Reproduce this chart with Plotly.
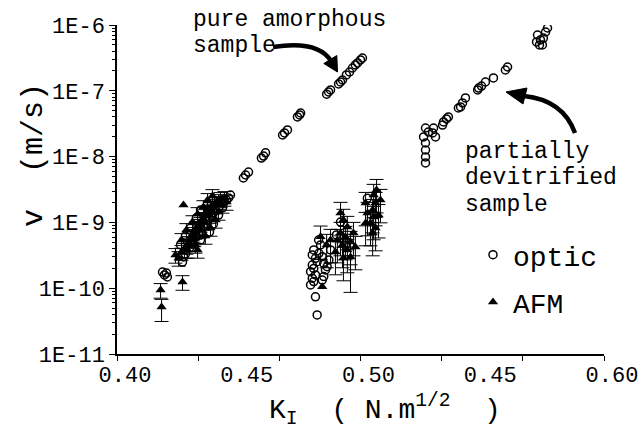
import plotly.graph_objects as go

# ---------------- data (K_I in N.m^1/2, v in m/s) ----------------
pure_optic_K = [0.5008, 0.5000, 0.4988, 0.4979, 0.4967, 0.4955, 0.4942, 0.4926, 0.4918, 0.4910,
                0.4877, 0.4869, 0.4861, 0.4754, 0.4750, 0.4741, 0.4700, 0.4688, 0.4680, 0.4610,
                0.4602, 0.4593, 0.4540, 0.4528, 0.4519,
                0.4466, 0.4458, 0.4450, 0.4437, 0.4421, 0.4405, 0.4396, 0.4388, 0.4372, 0.4363,
                0.4355, 0.4343, 0.4335, 0.4326, 0.4310, 0.4302, 0.4298, 0.4281, 0.4273, 0.4269,
                0.4187, 0.4195, 0.4207, 0.4203,
                0.4261, 0.4343, 0.4281, 0.4380, 0.4302, 0.4396, 0.4326, 0.4417, 0.4343, 0.4433]
pure_optic_v = [3.15e-7, 2.94e-7, 2.65e-7, 2.47e-7, 2.22e-7, 1.93e-7, 1.74e-7, 1.46e-7, 1.36e-7, 1.27e-7,
                1.03e-7, 9.6e-8, 8.9e-8, 4.6e-8, 4.29e-8, 4.0e-8, 2.54e-8, 2.29e-8, 2.13e-8, 1.14e-8,
                1.02e-8, 9.5e-9, 5.83e-9, 5.25e-9, 4.73e-9,
                2.61e-9, 2.35e-9, 2.19e-9, 1.97e-9, 1.77e-9, 1.54e-9, 1.39e-9, 1.29e-9, 1.05e-9, 9.46e-10,
                8.8e-10, 7.14e-10, 6.67e-10, 6.0e-10, 4.70e-10, 5.04e-10, 4.08e-10, 3.31e-10, 2.98e-10, 2.50e-10,
                1.76e-10, 1.59e-10, 1.48e-10, 1.70e-10,
                4.54e-10, 5.40e-10, 6.21e-10, 7.14e-10, 8.22e-10, 9.46e-10, 1.17e-9, 1.29e-9, 1.54e-9, 1.66e-9]

pure_afm_K = [0.4253, 0.4265, 0.4277, 0.4285, 0.4294, 0.4302, 0.4306, 0.4314, 0.4322, 0.4326,
              0.4335, 0.4343, 0.4347, 0.4355, 0.4363, 0.4368, 0.4376, 0.4384, 0.4392, 0.4400,
              0.4409, 0.4417, 0.4425, 0.4392, 0.4441, 0.4290, 0.4318, 0.4339, 0.4359, 0.4380,
              0.4269, 0.4179,
              0.4331, 0.4265, 0.4363, 0.4285, 0.4384, 0.4310, 0.4405, 0.4331, 0.4417, 0.4355,
              0.4433, 0.4372, 0.4450, 0.4240, 0.4322]
pure_afm_v = [2.88e-10, 3.55e-10, 3.81e-10, 4.38e-10, 4.86e-10, 5.40e-10, 6.21e-10, 6.67e-10, 7.40e-10, 8.22e-10,
              8.81e-10, 9.46e-10, 1.05e-9, 1.13e-9, 1.25e-9, 1.39e-9, 1.44e-9, 1.60e-9, 1.77e-9, 1.90e-9,
              1.97e-9, 2.11e-9, 2.27e-9, 2.52e-9, 2.35e-9, 3.81e-10, 5.79e-10, 7.66e-10, 1.01e-9, 1.29e-9,
              1.24e-10, 9.4e-11,
              3.81e-10, 5.40e-10, 6.21e-10, 7.66e-10, 8.22e-10, 1.01e-9, 1.09e-9, 1.34e-9, 1.44e-9, 1.71e-9,
              1.84e-9, 2.19e-9, 2.04e-9, 3.20e-10, 4.54e-10]

pure_afm_wide_K = [0.4183]
pure_afm_wide_v = [5.2e-11]

afm_noerr_K = [0.4273, 0.4843]
afm_noerr_v = [1.84e-9, 1.05e-10]

mid_optic_K = [0.4802, 0.4808, 0.4815, 0.4822, 0.4802, 0.4808, 0.4795, 0.4815, 0.4802, 0.4808,
               0.4795, 0.4829, 0.4843, 0.4849, 0.4856, 0.4849, 0.4843, 0.4863, 0.4870, 0.4815,
               0.4822, 0.4918, 0.5028, 0.4901, 0.4938, 0.4836, 0.4828, 0.4877]
mid_optic_v = [3.20e-10, 3.81e-10, 2.84e-10, 2.53e-10, 2.25e-10, 2.0e-10, 1.78e-10, 1.59e-10, 1.42e-10, 1.26e-10,
               1.12e-10, 3.39e-10, 3.01e-10, 2.39e-10, 1.89e-10, 1.50e-10, 1.33e-10, 2.12e-10, 2.69e-10, 7.4e-11,
               3.92e-11, 1.01e-9, 2.32e-9, 6.44e-10, 4.54e-10, 4.54e-10, 5.4e-10, 3.81e-10]

mid_afm_K = [0.4836, 0.4918, 0.4930, 0.4946, 0.4918, 0.4938, 0.4959, 0.4926, 0.4946, 0.4930,
             0.4905, 0.4971, 0.4979, 0.4897, 0.4877, 0.4861, 0.5054, 0.5062, 0.5050, 0.5054,
             0.5041, 0.5062, 0.5050, 0.5021, 0.5029, 0.5021, 0.5082, 0.5074, 0.5066]
mid_afm_v = [6.07e-10, 1.39e-9, 1.09e-9, 8.51e-10, 6.90e-10, 6.0e-10, 5.04e-10, 4.54e-10, 3.81e-10, 2.88e-10,
             5.40e-10, 6.90e-10, 4.23e-10, 3.55e-10, 5.4e-10, 4.54e-10, 2.61e-9, 1.97e-9, 1.54e-9, 1.21e-9,
             9.8e-10, 8.22e-10, 6.90e-10, 1.97e-9, 1.39e-9, 9.8e-10, 2.19e-9, 1.29e-9, 3.1e-9]

mid_afm_long_K = [0.4959]
mid_afm_long_v = [2.98e-10]

dev_optic_K = [0.5727, 0.5739, 0.5747, 0.5760, 0.5768, 0.5735, 0.5751, 0.5723, 0.5595, 0.5604,
               0.5546, 0.5513, 0.5485, 0.5481, 0.5497, 0.5431, 0.5411, 0.5402, 0.5419, 0.5361,
               0.5341, 0.5337, 0.5353, 0.5300, 0.5296, 0.5308, 0.5267, 0.5259, 0.5267, 0.5267,
               0.5267, 0.5267, 0.5279]
dev_optic_v = [7.05e-7, 5.92e-7, 4.97e-7, 7.83e-7, 9.0e-7, 4.97e-7, 6.34e-7, 5.52e-7, 2.07e-7, 2.30e-7,
               1.57e-7, 1.36e-7, 1.10e-7, 1.03e-7, 1.18e-7, 7.78e-8, 5.68e-8, 5.48e-8, 6.53e-8, 4.0e-8,
               3.36e-8, 3.02e-8, 3.73e-8, 2.72e-8, 2.29e-8, 1.99e-8, 2.72e-8, 1.99e-8, 1.61e-8, 1.26e-8,
               9.87e-9, 8.0e-9, 2.37e-8]

x_tick_vals = [0.40001, 0.45, 0.50001, 0.55, 0.59999]
x_tick_text = ["0.40", "0.45", "0.50", "0.45", "0.60"]
y_tick_vals = [1e-11, 1e-10, 1e-9, 1e-8, 1e-7, 1e-6]
y_tick_text = ["1E-11", "1E-10", "1E-9", "1E-8", "1E-7", "1E-6"]

# ---------------- styling ----------------
FONT = "Liberation Mono, Courier New, monospace"
W, H = 644, 438
L, R, T, B = 117, 604, 25, 354   # plot area in px


def pxx(x):
    return (x - L) / (R - L)


def pxy(y):
    return (B - y) / (B - T)


optic_marker = dict(symbol="circle-open", size=8, color="black", line=dict(width=1.5, color="black"))
afm_marker = dict(symbol="triangle-up", size=9, color="black")


def err(up, down=None):
    d = dict(type="percent", value=up, color="black", thickness=1, width=7)
    if down is not None:
        d.update(symmetric=False, valueminus=down)
    return d


fig = go.Figure()

fig.add_trace(go.Scatter(x=pure_optic_K + mid_optic_K + dev_optic_K,
                         y=pure_optic_v + mid_optic_v + dev_optic_v,
                         mode="markers", marker=optic_marker, name="optic",
                         legendgroup="o"))
fig.add_trace(go.Scatter(x=pure_afm_K, y=pure_afm_v, mode="markers", marker=afm_marker,
                         error_y=err(25), name="AFM", legendgroup="a"))
fig.add_trace(go.Scatter(x=pure_afm_wide_K, y=pure_afm_wide_v, mode="markers", marker=afm_marker,
                         error_y=err(30, 40), showlegend=False, legendgroup="a"))
fig.add_trace(go.Scatter(x=mid_afm_K, y=mid_afm_v, mode="markers", marker=afm_marker,
                         error_y=err(45, 55), showlegend=False, legendgroup="a"))
fig.add_trace(go.Scatter(x=mid_afm_long_K, y=mid_afm_long_v, mode="markers", marker=afm_marker,
                         error_y=err(42, 71), showlegend=False, legendgroup="a"))
fig.add_trace(go.Scatter(x=afm_noerr_K, y=afm_noerr_v, mode="markers", marker=afm_marker,
                         showlegend=False, legendgroup="a"))

minor_x = [0.40 + k * (0.20 / 6) for k in range(7)]
minor_y = [m * 10.0 ** e for e in range(-11, -6) for m in range(2, 10)]

fig.update_xaxes(range=[0.40, 0.60], showline=True, linecolor="black", linewidth=1.5,
                 showgrid=False, zeroline=False, tickmode="array",
                 tickvals=x_tick_vals, ticktext=x_tick_text,
                 ticks="", ticklabelshift=8,
                 minor=dict(tickvals=minor_x, ticks="outside", ticklen=5, tickcolor="black",
                            tickwidth=1.2, showgrid=False),
                 tickfont=dict(family=FONT, size=22, color="black"))
fig.update_yaxes(type="log", range=[-11, -6], showline=True, linecolor="black", linewidth=1.5,
                 showgrid=False, zeroline=False, tickmode="array",
                 tickvals=y_tick_vals, ticktext=y_tick_text,
                 ticks="outside", ticklen=6, tickcolor="black", tickwidth=1.2,
                 minor=dict(tickvals=minor_y, ticks="outside", ticklen=3, tickcolor="black",
                            tickwidth=1, showgrid=False),
                 tickfont=dict(family=FONT, size=22, color="black"))

ann_font = dict(family=FONT, size=23, color="black")
annotations = [
    dict(text="pure amorphous", x=pxx(191), y=pxy(20)),
    dict(text="sample", x=pxx(191), y=pxy(46)),
    dict(text="partially", x=pxx(463), y=pxy(152)),
    dict(text="devitrified", x=pxx(463), y=pxy(178)),
    dict(text="sample", x=pxx(463), y=pxy(205)),
]
for a in annotations:
    a.update(xref="paper", yref="paper", xanchor="left", yanchor="middle",
             showarrow=False, font=ann_font)

annotations.append(dict(text="v  (m/s)", textangle=-90, x=pxx(34), y=pxy(155),
                        xref="paper", yref="paper", xanchor="center", yanchor="middle",
                        showarrow=False, font=dict(family=FONT, size=30, color="black")))
annotations.append(dict(text="K<sub>I</sub>  ( N.m<sup>1/2</sup>  )", x=pxx(385), y=pxy(410),
                        xref="paper", yref="paper", xanchor="center", yanchor="middle",
                        showarrow=False, font=dict(family=FONT, size=28, color="black")))

shapes = [
    dict(type="path", xref="paper", yref="paper",
         path=f"M {pxx(273)},{pxy(47)} Q {pxx(318)},{pxy(40)} {pxx(331)},{pxy(61)}",
         line=dict(color="black", width=4.5)),
    dict(type="path", xref="paper", yref="paper",
         path=f"M {pxx(337.5)},{pxy(72)} L {pxx(336.8)},{pxy(55.5)} L {pxx(323.8)},{pxy(63.5)} Z",
         fillcolor="black", line=dict(color="black", width=1)),
    dict(type="path", xref="paper", yref="paper",
         path=f"M {pxx(575)},{pxy(133)} Q {pxx(563)},{pxy(100)} {pxx(524)},{pxy(96)}",
         line=dict(color="black", width=4.5)),
    dict(type="path", xref="paper", yref="paper",
         path=f"M {pxx(506)},{pxy(92)} L {pxx(527)},{pxy(88)} L {pxx(523)},{pxy(104)} Z",
         fillcolor="black", line=dict(color="black", width=1)),
]

fig.update_layout(
    width=W, height=H,
    margin=dict(l=L, r=W - R, t=T, b=H - B, autoexpand=False),
    paper_bgcolor="white", plot_bgcolor="white",
    annotations=annotations, shapes=shapes,
    legend=dict(x=pxx(473), y=pxy(230), xanchor="left", yanchor="top",
                font=dict(family=FONT, size=28, color="black"),
                bgcolor="rgba(0,0,0,0)", tracegroupgap=8, itemwidth=30),
    showlegend=True,
)

fig.write_html("out.html",
               config={"displayModeBar": False},
               post_script="document.body.style.margin='0';"
                           "document.body.style.overflow='hidden';"
                           "document.documentElement.style.overflow='hidden';")
